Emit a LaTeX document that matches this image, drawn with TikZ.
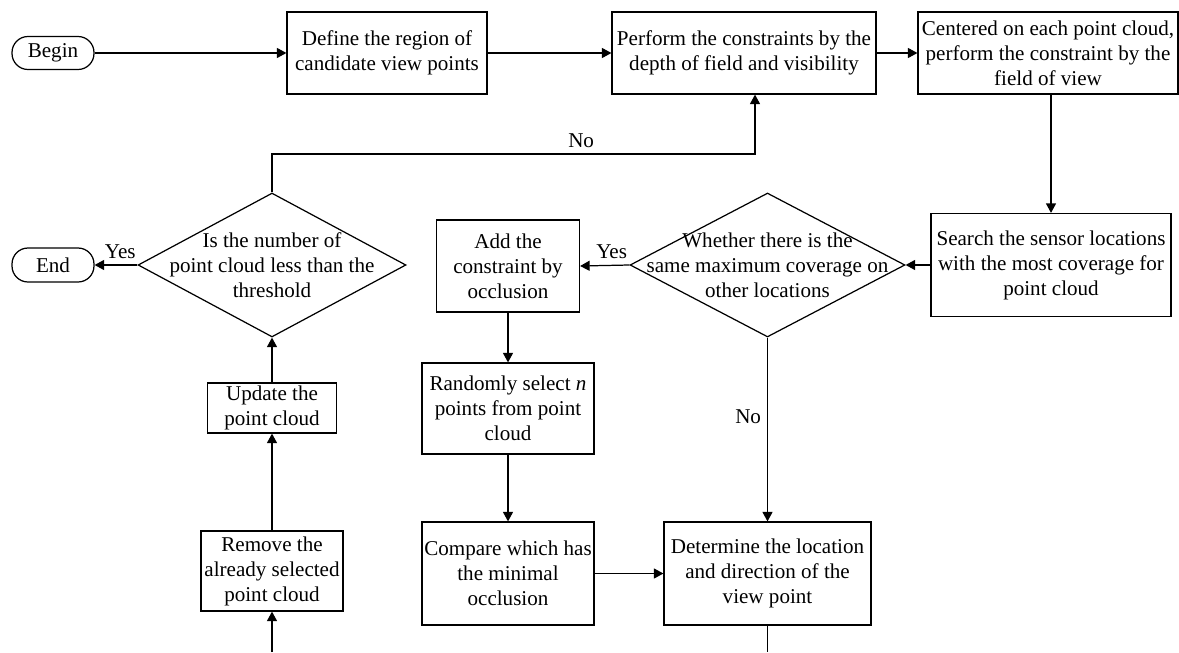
\documentclass[tikz,border=0pt]{standalone}
\usepackage{fontspec}
\setmainfont{Liberation Serif}
\usetikzlibrary{shapes.geometric,arrows.meta}

\begin{document}
\begin{tikzpicture}[x=0.02cm,y=-0.02cm,
  txt/.style={align=center,inner sep=0pt,font=\fontsize{12}{14.2}\selectfont},
  box/.style={draw,line width=0.7pt,txt},
  term/.style={box,rounded corners=0.32cm},
  decide/.style={draw,line width=0.7pt,diamond,inner sep=0pt},
  arr/.style={line width=0.7pt,-{Triangle[length=1.9mm,width=2mm]}},
  ln/.style={line width=0.7pt},
  lbl/.style={font=\fontsize{12}{14.2}\selectfont}]
\useasboundingbox (0,0) rectangle (1179,652);

\node[term,minimum width=1.64cm,minimum height=0.66cm] (begin) at (53,53) {Begin};
\node[box,minimum width=4cm,minimum height=1.64cm] (define) at (387,53) {Define the region of\\candidate view points};
\node[box,minimum width=5.28cm,minimum height=1.64cm] (perform) at (744,53) {Perform the constraints by the\\depth of field and visibility};
\node[box,minimum width=5.2cm,minimum height=1.64cm] (centered) at (1048,53) {Centered on each point cloud,\\perform the constraint by the\\field of view};
\node[box,minimum width=4.8cm,minimum height=2.06cm] (search) at (1051,265) {Search the sensor locations\\with the most coverage for\\point cloud};
\node[decide,minimum width=5.5cm,minimum height=2.88cm,
  label={[txt]center:Whether there is the\\same maximum coverage on\\other locations}] (whether) at (767.5,265) {};
\node[box,minimum width=2.86cm,minimum height=1.84cm] (add) at (508,266) {Add the\\constraint by\\occlusion};
\node[box,minimum width=3.44cm,minimum height=1.82cm] (randomly) at (508,408.5) {Randomly select \textit{n}\\points from point\\cloud};
\node[box,minimum width=3.44cm,minimum height=2.06cm] (compare) at (508,573.5) {Compare which has\\the minimal\\occlusion};
\node[box,minimum width=4.14cm,minimum height=2.06cm] (determine) at (767.5,573.5) {Determine the location\\and direction of the\\view point};
\node[decide,minimum width=5.36cm,minimum height=2.88cm,
  label={[txt]center:Is the number of\\point cloud less than the\\threshold}] (threshold) at (272,265) {};
\node[term,minimum width=1.64cm,minimum height=0.68cm] (endn) at (53,265) {End};
\node[box,minimum width=2.58cm,minimum height=1cm] (update) at (272,408) {Update the\\point cloud};
\node[box,minimum width=2.84cm,minimum height=1.6cm] (remove) at (272,571) {Remove the\\already selected\\point cloud};

\coordinate (back) at (755,154);
\coordinate (bl) at (272,652);
\coordinate (br) at (767.5,652);

\draw[arr] (begin) -- (define);
\draw[arr] (define) -- (perform);
\draw[arr] (perform) -- (centered);
\draw[arr] (search.north |- centered.south) -- (search.north);
\draw[arr] (search.west) -- (whether.east);
\draw[arr] (whether.west) -- node[lbl,above,pos=0.36] {Yes} (add.east);
\draw[arr] (add) -- (randomly);
\draw[arr] (randomly) -- (compare);
\draw[arr] (compare) -- (determine);
\draw[arr] (whether.south) -- node[lbl,left,pos=0.43] {No} (determine.north);
\draw[ln] (determine.south) -- (br);
\draw[arr] (bl) -- (remove.south);
\draw[arr] (remove) -- (update);
\draw[arr] (update) -- (threshold.south);
\draw[arr] (threshold.west) -- node[lbl,above,pos=0.4] {Yes} (endn.east);
\draw[arr] (threshold.north) |- node[lbl,above,pos=0.82] {No} (back) -- (back |- perform.south);
\end{tikzpicture}
\end{document}
